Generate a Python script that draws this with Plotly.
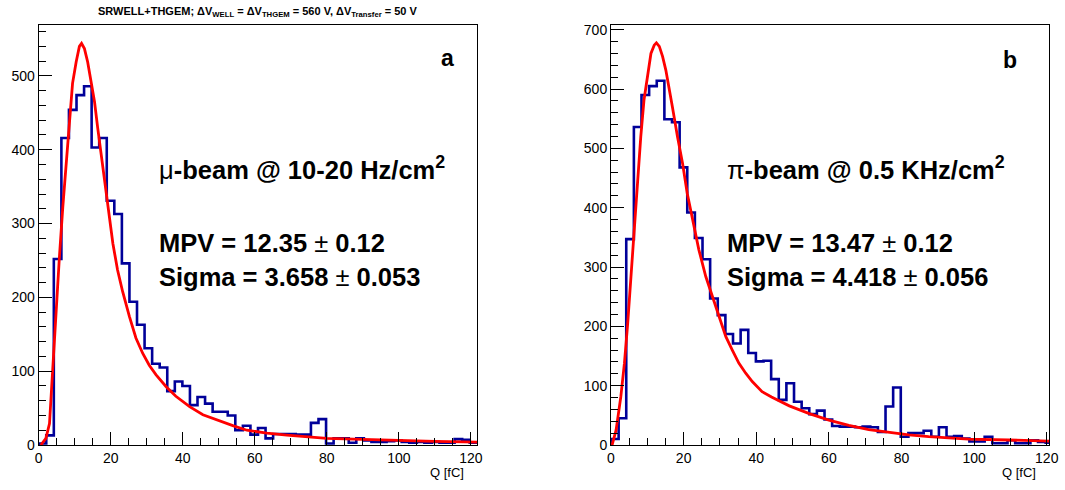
import plotly.graph_objects as go

# ---------------- data ----------------
BIN_WIDTH = 2.1  # fC per histogram bin

mu_counts = [2, 13, 252, 416, 454, 474, 486, 403, 416, 331,
             313, 246, 194, 163, 131, 110, 105, 73, 86, 80,
             54, 65, 56, 45, 45, 40, 20, 26, 14, 23,
             9, 15, 15, 15, 14, 14, 30, 35, 2, 9,
             9, 3, 9, 6, 4, 4, 5, 6, 4, 3,
             4, 3, 4, 3, 3, 8, 7, 3]

pi_counts = [10, 45, 347, 536, 590, 605, 614, 549, 544, 468,
             392, 349, 313, 247, 219, 187, 171, 194, 155, 141,
             142, 111, 76, 104, 73, 62, 52, 58, 43, 32,
             31, 31, 30, 31, 30, 22, 65, 97, 14, 20,
             20, 24, 14, 30, 14, 15, 11, 6, 6, 14,
             3, 3, 8, 3, 3, 8, 5, 4]

mu_fit_q = [0.6, 2, 3, 3.9, 4.8, 5.7, 6.7, 7.6, 8.5, 9.4, 10.4, 11.3, 11.9,
            12.7, 13.6, 14.5, 15.5, 16.4, 17.8, 19.2, 20.6, 21.9, 23.3, 25.2,
            27, 28.9, 30.7, 32.6, 35.4, 38.1, 41.9, 45.6, 50.4, 54.1, 57.8,
            63.4, 68.9, 74.5, 80, 90, 100, 110, 121.8]
mu_fit_v = [0, 9, 29, 106, 174, 251, 323, 382, 436, 490, 519, 540, 544,
            537, 519, 495, 465, 429, 377, 323, 273, 237, 208, 174,
            145, 124, 108, 95, 79, 66, 52, 41, 32, 26, 20,
            16, 13.5, 11, 9, 7.5, 6, 5, 4]

pi_fit_q = [0.3, 1.4, 2.7, 3.7, 4.6, 5.5, 6.4, 7.3, 8.2, 9.1, 10.1, 11, 11.9,
            12.5, 13.3, 14.2, 15.1, 16, 16.9, 18.3, 19.7, 21, 22.4, 24.2, 26.1,
            27.9, 29.7, 31.6, 33.4, 35.2, 37.1, 38.9, 41.6, 44.2, 49.1, 54.6,
            60, 65.5, 71, 76.5, 82, 87.5, 93, 98.5, 109.4, 120.7]
pi_fit_v = [0, 25, 81, 138, 205, 284, 363, 447, 520, 582, 627, 660, 674,
            678, 672, 655, 632, 604, 570, 520, 475, 424, 382, 329, 284,
            250, 216, 183, 160, 138, 121, 107, 90, 81, 66, 53,
            42, 33, 26, 21, 17, 14, 12, 10, 8.4, 6.7]

x_ticks = [0, 20, 40, 60, 80, 100, 120]
mu_y_ticks = [0, 100, 200, 300, 400, 500]
pi_y_ticks = [0, 100, 200, 300, 400, 500, 600, 700]

mu_x_range = [0, 121.8]
pi_x_range = [0, 120.7]
mu_y_range = [0, 569]
pi_y_range = [0, 708]

HIST_COLOR = "#000099"
FIT_COLOR = "#ff0000"
FONT = "Liberation Sans, Arial, Helvetica, sans-serif"
W, H = 1065, 490


def step_xy(counts):
    edges = [i * BIN_WIDTH for i in range(len(counts) + 1)]
    return [0] + edges, [0] + list(counts) + [counts[-1]]


fig = go.Figure()

hx, hy = step_xy(mu_counts)
fig.add_trace(go.Scatter(x=hx, y=hy, mode="lines", line=dict(color=HIST_COLOR, width=2.6, shape="hv"),
                         xaxis="x", yaxis="y", showlegend=False, hoverinfo="skip"))
fig.add_trace(go.Scatter(x=mu_fit_q, y=mu_fit_v, mode="lines", line=dict(color=FIT_COLOR, width=2.8),
                         xaxis="x", yaxis="y", showlegend=False, hoverinfo="skip"))

hx2, hy2 = step_xy(pi_counts)
fig.add_trace(go.Scatter(x=hx2, y=hy2, mode="lines", line=dict(color=HIST_COLOR, width=2.6, shape="hv"),
                         xaxis="x2", yaxis="y2", showlegend=False, hoverinfo="skip"))
fig.add_trace(go.Scatter(x=pi_fit_q, y=pi_fit_v, mode="lines", line=dict(color=FIT_COLOR, width=2.8),
                         xaxis="x2", yaxis="y2", showlegend=False, hoverinfo="skip"))


def px_x(p):
    return p / W


def px_y(p):
    return 1 - p / H


common_axis = dict(showline=True, linecolor="black", linewidth=1, mirror=True,
                   ticks="inside", ticklen=13, tickwidth=1, tickcolor="black",
                   showgrid=False, zeroline=False, automargin=False,
                   tickfont=dict(family=FONT, size=14, color="black"))

y_domain = [1 - 445 / H, 1 - 25 / H]

fig.update_layout(
    width=W, height=H, autosize=False,
    margin=dict(l=0, r=0, t=0, b=0, pad=0, autoexpand=False),
    paper_bgcolor="white", plot_bgcolor="white",
    xaxis=dict(domain=[px_x(38.7), px_x(477.3)], range=mu_x_range, tickvals=x_ticks,
               minor=dict(ticks="inside", ticklen=7, dtick=5, tick0=0, tickcolor="black", tickwidth=1),
               anchor="y", **common_axis),
    yaxis=dict(domain=y_domain, range=mu_y_range, tickvals=mu_y_ticks,
               minor=dict(ticks="inside", ticklen=7, dtick=20, tick0=0, tickcolor="black", tickwidth=1),
               anchor="x", **common_axis),
    xaxis2=dict(domain=[px_x(611), px_x(1049.3)], range=pi_x_range, tickvals=x_ticks,
                minor=dict(ticks="inside", ticklen=7, dtick=5, tick0=0, tickcolor="black", tickwidth=1),
                anchor="y2", **common_axis),
    yaxis2=dict(domain=y_domain, range=pi_y_range, tickvals=pi_y_ticks,
                minor=dict(ticks="inside", ticklen=7, dtick=20, tick0=0, tickcolor="black", tickwidth=1),
                anchor="x2", **common_axis),
)

big = dict(family=FONT, size=25.5, color="black")
annotations = [
    dict(text="<b>SRWELL+THGEM; ΔV<sub>WELL</sub> = ΔV<sub>THGEM</sub> = 560 V, ΔV<sub>Transfer</sub> = 50 V</b>",
         x=px_x(258), y=px_y(12), xanchor="center", yanchor="middle",
         font=dict(family=FONT, size=11, color="black")),
    dict(text="<b>a</b>", x=px_x(447), y=px_y(58), xanchor="center", yanchor="middle",
         font=dict(family=FONT, size=23, color="black")),
    dict(text="<b>b</b>", x=px_x(1010), y=px_y(60), xanchor="center", yanchor="middle",
         font=dict(family=FONT, size=23, color="black")),
    dict(text="μ<b>-beam @ 10-20 Hz/cm<sup>2</sup></b>", x=px_x(157), y=px_y(168),
         xanchor="left", yanchor="middle", font=big),
    dict(text="<b>MPV = 12.35 </b>±<b> 0.12</b>", x=px_x(157), y=px_y(243),
         xanchor="left", yanchor="middle", font=big),
    dict(text="<b>Sigma = 3.658 </b>±<b> 0.053</b>", x=px_x(157), y=px_y(277),
         xanchor="left", yanchor="middle", font=big),
    dict(text="π<b>-beam @ 0.5 KHz/cm<sup>2</sup></b>", x=px_x(725), y=px_y(168),
         xanchor="left", yanchor="middle", font=big),
    dict(text="<b>MPV = 13.47 </b>±<b> 0.12</b>", x=px_x(725), y=px_y(243),
         xanchor="left", yanchor="middle", font=big),
    dict(text="<b>Sigma = 4.418 </b>±<b> 0.056</b>", x=px_x(725), y=px_y(277),
         xanchor="left", yanchor="middle", font=big),
    dict(text="Q [fC]", x=px_x(466), y=px_y(472), xanchor="right", yanchor="middle",
         font=dict(family=FONT, size=13, color="black")),
    dict(text="Q [fC]", x=px_x(1038), y=px_y(472), xanchor="right", yanchor="middle",
         font=dict(family=FONT, size=13, color="black")),
]
for a in annotations:
    a.update(xref="paper", yref="paper", showarrow=False)
fig.update_layout(annotations=annotations)

fig.write_html(
    "out.html",
    config={"responsive": False, "displayModeBar": False, "staticPlot": True},
    post_script=("document.documentElement.style.margin='0px';"
                 "document.body.style.margin='0px';"
                 "document.body.style.overflow='hidden';"
                 "document.documentElement.style.overflow='hidden';"),
)
